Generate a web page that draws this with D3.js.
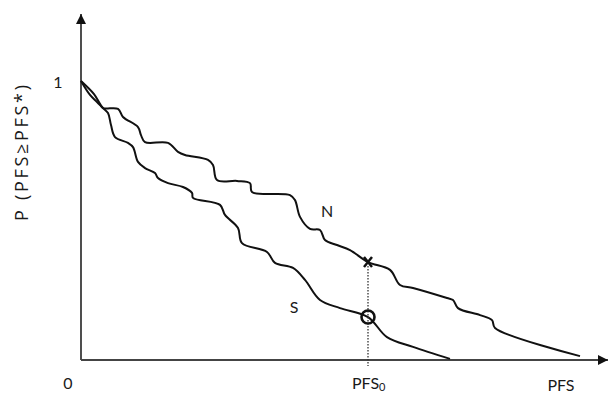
<!DOCTYPE html>
<html>
<head>
<meta charset="utf-8">
<script src="https://cdn.jsdelivr.net/npm/d3@7"></script>
<style>
  html, body { margin: 0; padding: 0; background: #fff; }
  svg { display: block; }
  text { font-family: Lato, "Open Sans", sans-serif; fill: #1a1a1a; }
</style>
</head>
<body>
<script>
// ---- data (PFS units on x, probability on y) ----
const nX = [0, 13, 19, 22, 37, 42, 57, 60, 64, 87, 97, 104, 127, 132, 136, 156, 169, 171, 209, 214, 219, 229, 239, 244, 256, 269, 287, 309, 319, 332, 366, 372, 377, 399, 411, 414, 499];
const nY = [1.000, 0.953, 0.918, 0.903, 0.900, 0.871, 0.835, 0.806, 0.781, 0.778, 0.746, 0.735, 0.717, 0.699, 0.645, 0.642, 0.634, 0.602, 0.591, 0.573, 0.513, 0.470, 0.466, 0.430, 0.412, 0.394, 0.351, 0.323, 0.269, 0.258, 0.222, 0.215, 0.186, 0.161, 0.143, 0.115, 0.014];
const sX = [0, 9, 16, 22, 27, 30, 34, 47, 52, 57, 64, 74, 77, 87, 102, 111, 112, 139, 144, 157, 161, 186, 194, 212, 224, 239, 259, 287, 306, 332, 369];
const sY = [1.000, 0.950, 0.925, 0.903, 0.885, 0.842, 0.799, 0.778, 0.763, 0.710, 0.688, 0.670, 0.652, 0.634, 0.620, 0.599, 0.581, 0.556, 0.520, 0.473, 0.419, 0.387, 0.348, 0.330, 0.287, 0.215, 0.186, 0.154, 0.082, 0.047, 0.004];
const pfs0 = 287;
const markerN = 0.351;   // "X" on curve N at PFS0
const markerS = 0.154;   // "O" on curve S at PFS0
const seriesLabels = ["N", "S"];
const yTickLabels = ["0", "1"];
const xAxisLabels = ["PFS"];
const yAxisTitle = "P (PFS\u2265PFS*)";

// ---- layout ----
const W = 609, H = 397;
const x = d3.scaleLinear().domain([0, 520]).range([81, 601]);
const y = d3.scaleLinear().domain([0, 1]).range([360, 81]);

const svg = d3.select("body").append("svg").attr("width", W).attr("height", H);

const defs = svg.append("defs");
defs.append("marker").attr("id", "arrow")
  .attr("viewBox", "0 0 10 10").attr("refX", 10).attr("refY", 5)
  .attr("markerWidth", 10).attr("markerHeight", 10)
  .attr("markerUnits", "userSpaceOnUse")
  .attr("orient", "auto")
  .append("path").attr("d", "M0,0 L10,5 L0,10 Z").attr("fill", "#111");

// axes
svg.append("line")
  .attr("x1", x(0)).attr("y1", y(0)).attr("x2", x(0)).attr("y2", 14)
  .attr("stroke", "#222").attr("stroke-width", 1.6).attr("marker-end", "url(#arrow)");
svg.append("line")
  .attr("x1", x(0)).attr("y1", y(0)).attr("x2", 608).attr("y2", y(0))
  .attr("stroke", "#444").attr("stroke-width", 2).attr("marker-end", "url(#arrow)");

// curves
const line = d3.line().x(d => x(d[0])).y(d => y(d[1])).curve(d3.curveCatmullRom.alpha(0.5));
const nData = nX.map((v, i) => [v, nY[i]]);
const sData = sX.map((v, i) => [v, sY[i]]);
[nData, sData].forEach(data => {
  svg.append("path").datum(data).attr("d", line)
    .attr("fill", "none").attr("stroke", "#111").attr("stroke-width", 2)
    .attr("stroke-linejoin", "round");
});

// dotted vertical at PFS0
svg.append("line")
  .attr("x1", x(pfs0)).attr("x2", x(pfs0))
  .attr("y1", y(markerN) + 4).attr("y2", 366)
  .attr("stroke", "#333").attr("stroke-width", 1.3).attr("stroke-dasharray", "1.5,1.5");

// X marker
const cx = x(pfs0), cyN = y(markerN);
svg.append("path")
  .attr("d", `M${cx-4},${cyN-5}L${cx+4},${cyN+5}M${cx+4},${cyN-5}L${cx-4},${cyN+5}`)
  .attr("stroke", "#111").attr("stroke-width", 2.5);
// O marker
svg.append("circle").attr("cx", cx).attr("cy", y(markerS)).attr("r", 6.5)
  .attr("fill", "none").attr("stroke", "#111").attr("stroke-width", 2.6);

// text labels
svg.append("text").attr("x", 58).attr("y", 88).attr("text-anchor", "middle")
  .attr("font-size", 16).text(yTickLabels[1]);
svg.append("text").attr("x", 68).attr("y", 389).attr("text-anchor", "middle")
  .attr("font-size", 16).text(yTickLabels[0]);
const t0 = svg.append("text").attr("x", 352).attr("y", 389).attr("font-size", 16);
t0.append("tspan").text("PFS");
t0.append("tspan").attr("font-size", 11).attr("dy", 2).text("0");
svg.append("text").attr("x", 561).attr("y", 391).attr("text-anchor", "middle")
  .attr("font-size", 16).text(xAxisLabels[0]);

svg.append("text").attr("x", 327).attr("y", 217).attr("text-anchor", "middle")
  .attr("font-size", 16).text(seriesLabels[0]);
svg.append("text").attr("x", 294).attr("y", 313).attr("text-anchor", "middle")
  .attr("font-size", 16).text(seriesLabels[1]);

svg.append("text")
  .attr("transform", "translate(28,153) rotate(-90)")
  .attr("text-anchor", "middle").attr("font-size", 18)
  .style("font-family", "'Open Sans', sans-serif")
  .attr("textLength", 136).attr("lengthAdjust", "spacing")
  .text(yAxisTitle);
</script>
</body>
</html>
